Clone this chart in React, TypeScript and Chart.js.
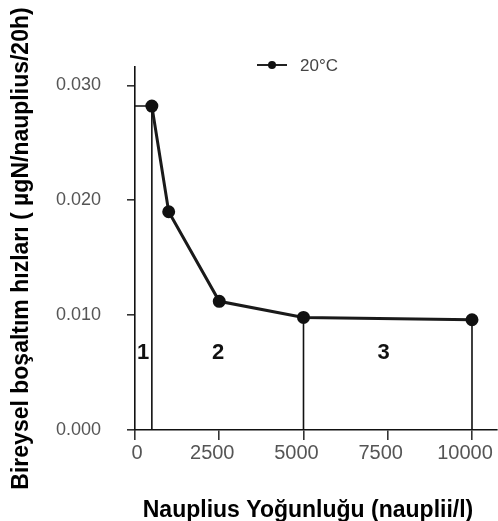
import React, { useEffect, useRef } from "react";
import { Chart, registerables } from "chart.js";

Chart.register(...registerables);

const seriesLabel = "20°C";
const densityX = [500, 1000, 2500, 5000, 10000];
const excretionY = [0.0282, 0.019, 0.0112, 0.0098, 0.0096];
const dividerX = [500, 5000, 10000];
const dividerTopY = [0.0282, 0.0098, 0.0096];
const regionLabels = ["1", "2", "3"];
const regionX = [240, 2470, 7380];
const regionY = [0.0067, 0.0067, 0.0067];
const yTickValues = [0, 0.01, 0.02, 0.03];
const xTickValues = [0, 2500, 5000, 7500, 10000];
const xTickLabels = ["0", "2500", "5000", "7500", "10000"];
const xTitle = "Nauplius Yoğunluğu (nauplii/l)";
const yTitle = "Bireysel boşaltım hızları ( µgN/nauplius/20h)";

const overlayPlugin = {
  id: "overlay",
  afterDatasetsDraw(chart: any) {
    const { ctx, scales, chartArea } = chart;
    const xs = scales.x;
    const ys = scales.y;
    ctx.save();
    ctx.fillStyle = "#111";
    ctx.font = "bold 22px 'Liberation Sans', Arial, sans-serif";
    ctx.textAlign = "center";
    ctx.textBaseline = "middle";
    regionLabels.forEach((t, i) => {
      ctx.fillText(t, xs.getPixelForValue(regionX[i]), ys.getPixelForValue(regionY[i]));
    });
    // x tick labels
    ctx.fillStyle = "#555";
    ctx.font = "20px 'Liberation Sans', Arial, sans-serif";
    xTickValues.forEach((v, i) => {
      ctx.fillText(xTickLabels[i], xs.getPixelForValue(v) - (i === 0 ? -2 : 7), chartArea.bottom + 23);
    });
    // x title
    ctx.fillStyle = "#000";
    ctx.font = "bold 23px 'Liberation Sans', Arial, sans-serif";
    ctx.fillText(xTitle, (chartArea.left + chartArea.right) / 2 - 8, chartArea.bottom + 81);
    // legend
    const lx = chartArea.left + 122;
    const ly = chartArea.top - 2;
    ctx.strokeStyle = "#222";
    ctx.lineWidth = 2;
    ctx.beginPath();
    ctx.moveTo(lx, ly);
    ctx.lineTo(lx + 30, ly);
    ctx.stroke();
    ctx.beginPath();
    ctx.fillStyle = "#111";
    ctx.arc(lx + 15, ly, 4, 0, Math.PI * 2);
    ctx.fill();
    ctx.fillStyle = "#444";
    ctx.font = "17px 'Liberation Sans', Arial, sans-serif";
    ctx.textAlign = "left";
    ctx.fillText(seriesLabel, lx + 43, ly + 1);
    ctx.restore();
  },
};

export default function App() {
  const ref = useRef<HTMLCanvasElement | null>(null);
  useEffect(() => {
    if (!ref.current) return;
    const mainData = densityX.map((x, i) => ({ x, y: excretionY[i] }));
    const dividers = dividerX.map((x, i) => ({
      data: [
        ...(i === 0 ? [{ x: 0, y: dividerTopY[i] }] : []),
        { x, y: dividerTopY[i] },
        { x, y: 0 },
      ],
      borderColor: "#111",
      borderWidth: 1.6,
      pointRadius: 0,
      showLine: true,
      fill: false,
    }));
    const chart = new Chart(ref.current, {
      type: "scatter",
      data: {
        datasets: [
          ...dividers,
          {
            label: seriesLabel,
            data: mainData,
            showLine: true,
            borderColor: "#1a1a1a",
            backgroundColor: "#111",
            borderWidth: 3,
            pointRadius: 5,
            pointHoverRadius: 5,
            pointBackgroundColor: "#111",
            pointBorderColor: "#111",
          },
        ] as any,
      },
      plugins: [overlayPlugin],
      options: {
        animation: false,
        responsive: false,
        layout: { autoPadding: false, padding: { top: 67, right: 1, left: 0, bottom: 0 } },
        plugins: { legend: { display: false }, tooltip: { enabled: false } },
        scales: {
          x: {
            type: "linear",
            min: 0,
            max: 10742,
            afterBuildTicks: (s: any) => {
              s.ticks = xTickValues.map((v) => ({ value: v }));
            },
            afterFit: (s: any) => {
              s.height = 91;
            },
            border: { display: true, color: "#111", width: 1.6 },
            grid: { display: true, drawOnChartArea: false, drawTicks: true, tickLength: 10, color: "#333", lineWidth: 1.6 },
            ticks: { display: false },
            title: { display: false, text: xTitle },
          },
          y: {
            type: "linear",
            min: 0,
            max: 0.0316,
            afterBuildTicks: (s: any) => {
              s.ticks = yTickValues.map((v) => ({ value: v }));
            },
            afterFit: (s: any) => {
              s.width = 135;
            },
            border: { display: true, color: "#111", width: 1.6 },
            grid: { display: true, drawOnChartArea: false, drawTicks: true, tickLength: 8, color: "#333", lineWidth: 1.6 },
            ticks: {
              padding: 26,
              color: "#555",
              font: { size: 18, family: "'Liberation Sans', Arial, sans-serif" },
              callback: (v: any) => Number(v).toFixed(3),
            },
            title: {
              display: true,
              text: yTitle,
              color: "#000",
              font: { size: 23, weight: "bold", family: "'Liberation Sans', Arial, sans-serif" },
              padding: { top: 8, bottom: 0 },
            },
          },
        },
      } as any,
    });
    return () => chart.destroy();
  }, []);
  return (
    <div style={{ position: "fixed", left: 0, top: 0, width: 498, height: 521, background: "#fff" }}>
      <canvas ref={ref} width={498} height={521} />
    </div>
  );
}
